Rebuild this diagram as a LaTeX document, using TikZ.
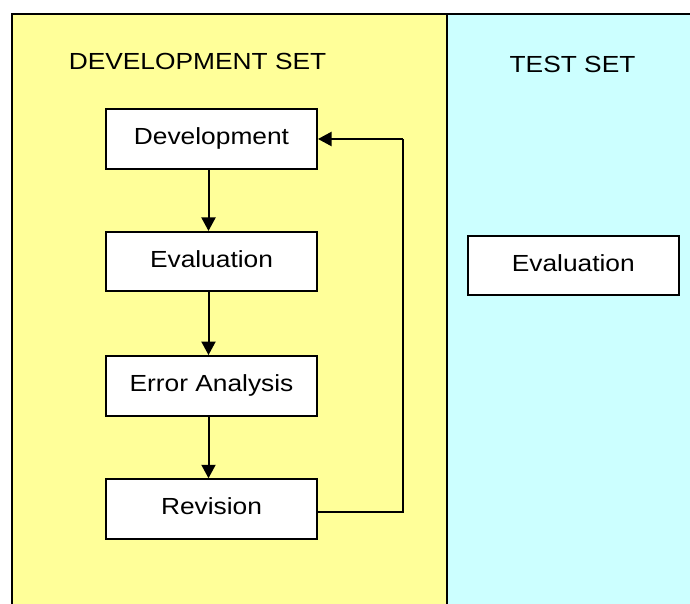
\documentclass[tikz,border=0pt]{standalone}
\usepackage{fontspec}
\setmainfont{Liberation Sans}[FakeStretch=1.13]
\usetikzlibrary{arrows.meta}
\definecolor{devyellow}{HTML}{FFFF99}
\definecolor{testcyan}{HTML}{CCFFFF}
\begin{document}
\begin{tikzpicture}[x=1pt,y=-1pt,
  stagebox/.style={draw=black,line width=2pt,fill=white,minimum width=211pt,minimum height=59.5pt,inner sep=0pt,text height=11pt,text depth=0pt,font=\fontsize{23.3}{28}\selectfont},
  header/.style={anchor=base,inner sep=0pt,font=\fontsize{23.3}{28}\selectfont},
  flow/.style={line width=2pt,-{Triangle[length=13.5pt,width=14pt]}},
  link/.style={line width=2pt}]
\useasboundingbox (0,0) rectangle (690,604);
\clip (0,0) rectangle (690,604);
\fill[white] (0,0) rectangle (690,604);
\fill[devyellow] (11.5,14) rectangle (446.5,620);
\fill[testcyan] (446.5,14) rectangle (710,620);
\draw[line width=2pt] (11.5,620) -- (11.5,14) -- (710,14);
\draw[line width=2pt] (446.5,14) -- (446.5,620);
\node[header] (devhead) at (197.5,69.3) {DEVELOPMENT SET};
\node[header] (testhead) at (572.5,72.7) {TEST SET};
\node[stagebox] (dev) at (211.5,139) {Development};
\node[stagebox] (eval) at (211.5,261.7) {Evaluation};
\node[stagebox] (err) at (211.5,385.8) {Error Analysis};
\node[stagebox] (rev) at (211.5,509) {Revision};
\node[stagebox,minimum width=211.3pt,minimum height=59pt] (test) at (573.3,265.5) {Evaluation};
\draw[flow] ([xshift=-3pt]dev.south) -- ([xshift=-3pt]eval.north);
\draw[flow] ([xshift=-3pt]eval.south) -- ([xshift=-3pt]err.north);
\draw[flow] ([xshift=-3pt]err.south) -- ([xshift=-3pt]rev.north);
\coordinate (loopbottom) at (403.3,511.7);
\coordinate (looptop) at (403.3,139);
\draw[link] (rev.east |- loopbottom) -- (loopbottom) -- (looptop);
\draw[flow] (looptop) -- (dev.east);
\end{tikzpicture}
\end{document}
